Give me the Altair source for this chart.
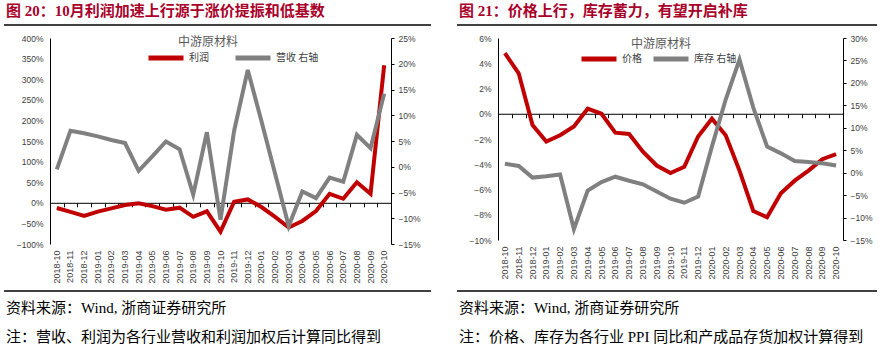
import altair as alt
import pandas as pd

months = ["2018-10", "2018-11", "2018-12", "2019-01", "2019-02", "2019-03", "2019-04",
          "2019-05", "2019-06", "2019-07", "2019-08", "2019-09", "2019-10", "2019-11",
          "2019-12", "2020-01", "2020-02", "2020-03", "2020-04", "2020-05", "2020-06",
          "2020-07", "2020-08", "2020-09", "2020-10"]

# Panel 20 (left): profit (left axis, %) and revenue (right axis, %)
profit = [-12.7, -22, -32, -21.5, -13.5, -5.5, -1, -8, -16.6, -11.8, -34, -20.7, -70,
          2.6, 8.2, -10.2, -34, -60, -44, -20, 21.8, 9.8, 49.8, 21.8, 334]
revenue = [-0.5, 7.0, 6.5, 5.9, 5.2, 4.6, -0.8, 2.0, 4.9, 3.4, -5.4, 6.7, -10.3,
           7.0, 18.8, 8.9, -1.3, -11.5, -4.8, -6.1, -2.1, -2.9, 6.2, 3.6, 14.2]

# Panel 21 (right): price (left axis, %) and inventory (right axis, %)
price = [4.8, 3.2, -0.9, -2.2, -1.7, -1.0, 0.4, 0.0, -1.5, -1.6, -3.0, -4.1, -4.7,
         -4.2, -1.8, -0.4, -1.7, -4.5, -7.7, -8.2, -6.3, -5.3, -4.5, -3.6, -3.2]
inventory = [2.0, 1.5, -1.1, -0.8, -0.4, -12.6, -4.0, -2.1, -0.9, -1.8, -2.6, -4.2, -5.8,
             -6.7, -5.3, 5.8, 16.3, 25.2, 14.5, 5.8, 4.3, 2.6, 2.4, 2.1, 1.6]

left_ticks_20 = [-100, -50, 0, 50, 100, 150, 200, 250, 300, 350, 400]
right_ticks_20 = [-15, -10, -5, 0, 5, 10, 15, 20, 25]
left_ticks_21 = [-10, -8, -6, -4, -2, 0, 2, 4, 6]
right_ticks_21 = [-15, -10, -5, 0, 5, 10, 15, 20, 25, 30]

RED = "#C00000"
GRAY = "#808080"
TITLE_RED = "#A8002A"
LABEL = "#404040"
SANS = "Liberation Sans"
CJK = "Noto Sans CJK SC"
MIX = "Liberation Serif, Noto Sans CJK SC"

one = pd.DataFrame({"k": [0]})


def txt(text, x, y, size, color, font, bold=False, align="left"):
    return alt.Chart(one).mark_text(
        text=text, align=align, baseline="middle", fontSize=size, font=font,
        fontWeight="bold" if bold else "normal", color=color
    ).encode(x=alt.value(x), y=alt.value(y))


def hrule(x1, x2, y):
    return alt.Chart(one).mark_rule(color="black", strokeWidth=1.5).encode(
        x=alt.value(x1), x2=alt.value(x2), y=alt.value(y))


def panel(title, note, s_left, v_left, s_right, v_right, left_dom, left_ticks,
          right_dom, right_ticks, W, H, zero_off, leg_x, leg_y, leg_pad,
          lt_x, lt_y, x0, rule_end):
    df_l = pd.DataFrame({"month": months, "series": s_left, "value": v_left})
    df_r = pd.DataFrame({"month": months, "series": s_right, "value": v_right})
    legend = alt.Legend(
        title=None, orient="none", legendX=leg_x, legendY=leg_y, direction="horizontal",
        symbolType="stroke", symbolSize=1225, symbolStrokeWidth=5, labelFont=CJK,
        labelFontSize=10, labelColor=LABEL, columnPadding=leg_pad, labelOffset=3)
    color = alt.Color("series:N", scale=alt.Scale(domain=[s_left, s_right], range=[RED, GRAY]),
                      legend=legend)
    xsc = alt.Scale(type="band", paddingInner=0, paddingOuter=0)
    line_l = alt.Chart(df_l).mark_line(strokeWidth=4).encode(
        x=alt.X("month:O", sort=months, scale=xsc, bandPosition=0.5,
                axis=alt.Axis(orient="bottom", title=None, domain=False, ticks=False,
                              labelAngle=-90, labelFont=SANS, labelFontSize=9,
                              labelColor=LABEL, labelPadding=6, grid=False)),
        y=alt.Y("value:Q", scale=alt.Scale(domain=left_dom, nice=False, zero=False),
                axis=alt.Axis(orient="left", title=None, values=left_ticks,
                              labelExpr="datum.label + '%'", ticks=False, domainColor="black",
                              labelFont=SANS, labelFontSize=8.5, labelColor=LABEL,
                              labelPadding=7, grid=False)),
        color=color)
    line_r = alt.Chart(df_r).mark_line(strokeWidth=4).encode(
        x=alt.X("month:O", sort=months, scale=xsc, bandPosition=0.5,
                axis=alt.Axis(orient="bottom", title=None, labels=False, ticks=True,
                              tickSize=4, tickColor="black", tickBand="extent",
                              domainColor="black", offset=zero_off, grid=False)),
        y=alt.Y("value:Q", scale=alt.Scale(domain=right_dom, nice=False, zero=False),
                axis=alt.Axis(orient="right", title=None, values=right_ticks,
                              labelExpr="datum.label + '%'", ticks=True, tickSize=3,
                              tickColor="black", domainColor="black", labelFont=SANS,
                              labelFontSize=8.5, labelColor=LABEL, labelPadding=4,
                              grid=False)),
        color=color)
    deco = [
        txt(title, x0 + 2, -27, 15, TITLE_RED, MIX, bold=True),
        hrule(x0, rule_end, -13),
        txt("中游原材料", lt_x, lt_y, 12, "#595959", CJK, align="center"),
        hrule(x0, rule_end, 253),
        txt("资料来源：Wind, 浙商证券研究所", x0 + 2, 270, 15, "black", MIX),
        txt(note, x0 + 2, 299, 15, "black", MIX),
    ]
    return alt.layer(line_l, line_r, *deco).resolve_scale(y="independent").resolve_axis(
        x="independent").properties(width=W, height=H)


H20, H21 = 206, 202
left = panel("图 20：10月利润加速上行源于涨价提振和低基数",
             "注：营收、利润为各行业营收和利润加权后计算同比得到",
             "利润", profit, "营收 右轴", revenue, [-100, 400], left_ticks_20,
             [-15, 25], right_ticks_20, 341, H20, -H20 * 100 / 500,
             96, 0, 16, 158, 4, -46, 381)
right = panel("图 21：价格上行，库存蓄力，有望开启补库",
              "注：价格、库存为各行业 PPI 同比和产成品存货加权计算得到",
              "价格", price, "库存 右轴", inventory, [-10, 6], left_ticks_21,
              [-15, 30], right_ticks_21, 345, H21, -H21 * 10 / 16,
              81, 1, 1, 163, 6, -41, 379)

chart = alt.hconcat(left, right, spacing=24).resolve_scale(color="independent").properties(
    padding={"left": 3, "top": 4, "right": 0, "bottom": 0}
).configure_view(stroke=None)

chart.save("out.html", embed_options={"renderer": "svg", "actions": False})
